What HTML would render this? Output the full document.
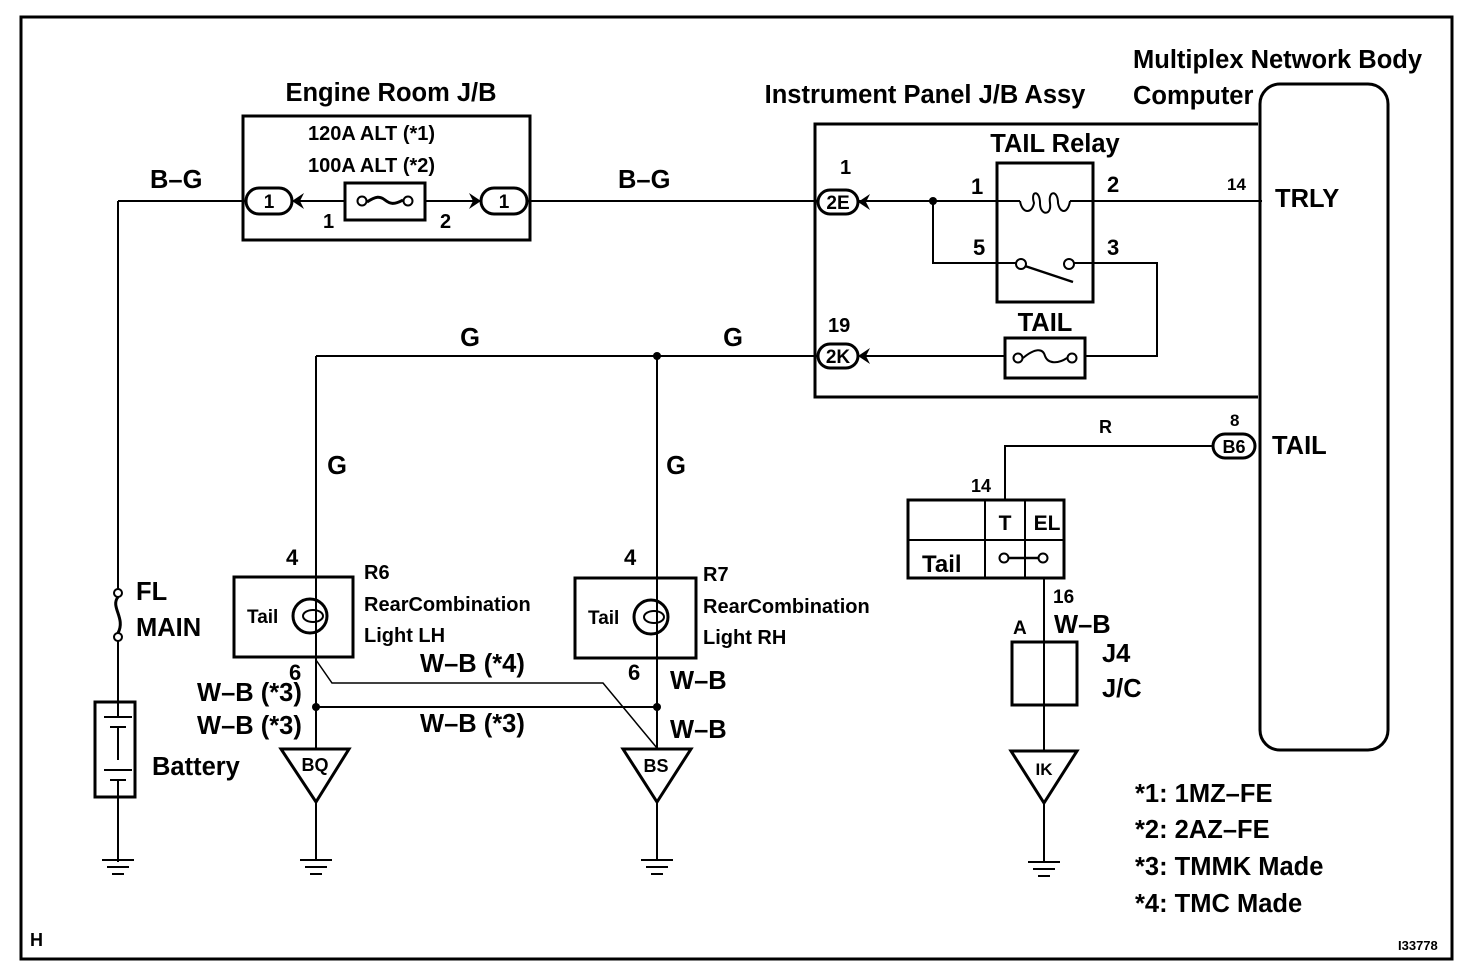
<!DOCTYPE html>
<html><head><meta charset="utf-8"><style>
html,body{margin:0;padding:0;background:#fff}
svg{display:block}
text{font-family:"Liberation Sans",sans-serif;fill:#000;font-weight:bold}
</style></head><body>
<svg width="1472" height="976" viewBox="0 0 1472 976" xmlns="http://www.w3.org/2000/svg">
<g fill="none" stroke="#000">
<path d="M21,17 H1452 V959 H21 Z" stroke-width="3"/>
<rect x="243" y="116" width="287" height="124" stroke-width="3"/>
<rect x="246" y="188" width="46" height="26" rx="13" stroke-width="3"/>
<rect x="481" y="188" width="46" height="26" rx="13" stroke-width="3"/>
<rect x="345" y="183" width="80" height="37" stroke-width="3"/>
<path d="M118,201 H246 M292,201 H345 M425,201 H481 M527,201 H818" stroke-width="2"/>
<circle cx="362" cy="201" r="4.5" stroke-width="2" fill="#fff"/>
<circle cx="408" cy="201" r="4.5" stroke-width="2" fill="#fff"/>
<path d="M367,202 C376,196 380,196 385,200 C390,204 394,205 403,200" stroke-width="3"/>
<path d="M1258,124 H815 V397 H1258" stroke-width="3"/>
<rect x="818" y="190" width="40" height="24" rx="12" stroke-width="3"/>
<rect x="818" y="344" width="40" height="24" rx="12" stroke-width="3"/>
<rect x="997" y="163" width="96" height="139" stroke-width="3"/>
<path d="M858,201 H1020 M1070,201 H1262" stroke-width="2"/>
<path d="M1020,201 C1022,214 1032,214 1034,203 C1030,190 1040,190 1040,203 C1040,216 1052,216 1050,203 C1048,190 1058,190 1058,203 C1060,214 1068,214 1070,201" stroke-width="2"/>
<path d="M933,201 V263 H1017 M1074,263 H1157 V356 H1085 M1005,356 H858 M316,356 H818" stroke-width="2"/>
<circle cx="1021" cy="264" r="5" stroke-width="2" fill="#fff"/>
<circle cx="1069" cy="264" r="5" stroke-width="2" fill="#fff"/>
<path d="M1025,266 L1073,282" stroke-width="2.5"/>
<rect x="1005" y="338" width="80" height="40" stroke-width="3"/>
<circle cx="1018" cy="358" r="4.5" stroke-width="2" fill="#fff"/>
<circle cx="1072" cy="358" r="4.5" stroke-width="2" fill="#fff"/>
<path d="M1023,358 C1035,348 1043,348 1045,356 C1048,364 1058,364 1067,358" stroke-width="2"/>
<rect x="1260" y="84" width="128" height="666" rx="20" stroke-width="3"/>
<rect x="1213" y="434" width="42" height="24" rx="12" stroke-width="3"/>
<path d="M1213,446 H1005 V500" stroke-width="2"/>
<rect x="908" y="500" width="156" height="78" stroke-width="3"/>
<path d="M908,540 H1064 M985,500 V578 M1025,500 V578" stroke-width="2"/>
<circle cx="1004" cy="558" r="4.5" stroke-width="2" fill="#fff"/>
<circle cx="1043" cy="558" r="4.5" stroke-width="2" fill="#fff"/>
<path d="M1009,558 H1038" stroke-width="2.5"/>
<path d="M1044,578 V752 M1044,803 V862" stroke-width="2"/>
<rect x="1012" y="642" width="65" height="63" stroke-width="3"/>
<path d="M118,201 V590 M118,640 V702 M118,797 V862" stroke-width="2"/>
<circle cx="118" cy="593" r="4" stroke-width="2" fill="#fff"/>
<circle cx="118" cy="637" r="4" stroke-width="2" fill="#fff"/>
<path d="M118,597 C110,607 126,618 118,633" stroke-width="3"/>
<rect x="95" y="702" width="40" height="95" stroke-width="3"/>
<path d="M104,717 H132 M110,727 H126 M118,727 V760 M104,770 H132 M110,780 H126 M118,702 V717 M118,780 V797" stroke-width="2"/>
<path d="M316,356 V749 M657,356 V749" stroke-width="2"/>
<rect x="234" y="577" width="119" height="80" stroke-width="3"/>
<rect x="575" y="578" width="121" height="80" stroke-width="3"/>
<circle cx="310" cy="616" r="17" stroke-width="3"/>
<ellipse cx="313" cy="616" rx="10" ry="6" stroke-width="2"/>
<circle cx="651" cy="617" r="17" stroke-width="3"/>
<ellipse cx="654" cy="617" rx="10" ry="6" stroke-width="2"/>
<path d="M316,660 L332,683 H603 L657,748" stroke-width="1.5"/>
<path d="M316,707 H657" stroke-width="2"/>
<path d="M281,749 H349 L316,802 Z" stroke-width="3"/>
<path d="M623,749 H691 L657,802 Z" stroke-width="3"/>
<path d="M1011,751 H1077 L1044,803 Z" stroke-width="3"/>
<path d="M316,802 V860 M657,802 V860" stroke-width="2"/>
<path d="M102,860 H134 M107,867 H129 M112,874 H124" stroke-width="2"/>
<path d="M300,860 H332 M305,867 H327 M310,874 H322" stroke-width="2"/>
<path d="M641,860 H673 M646,867 H668 M651,874 H663" stroke-width="2"/>
<path d="M1028,862 H1060 M1033,869 H1055 M1038,876 H1050" stroke-width="2"/>
</g>
<g fill="#000">
<circle cx="933" cy="201" r="4"/>
<circle cx="657" cy="356" r="4"/>
<circle cx="316" cy="707" r="4"/>
<circle cx="657" cy="707" r="4"/>
<path d="M292,201 L304,193 L300,201 L304,209 Z"/>
<path d="M481,201 L469,193 L473,201 L469,209 Z"/>
<path d="M858,202 L870,194 L866,202 L870,210 Z"/>
<path d="M858,356 L870,348 L866,356 L870,364 Z"/>
</g>
<g font-size="25.5">
<text x="391" y="101" text-anchor="middle">Engine Room J/B</text>
<text x="925" y="103" text-anchor="middle">Instrument Panel J/B Assy</text>
<text x="1133" y="68">Multiplex Network Body</text>
<text x="1133" y="104">Computer</text>
<text x="150" y="188">B–G</text>
<text x="618" y="188">B–G</text>
<text x="1055" y="152" text-anchor="middle">TAIL Relay</text>
<text x="1045" y="331" text-anchor="middle">TAIL</text>
<text x="1275" y="207">TRLY</text>
<text x="1272" y="454">TAIL</text>
<text x="470" y="346" text-anchor="middle">G</text>
<text x="733" y="346" text-anchor="middle">G</text>
<text x="337" y="474" text-anchor="middle">G</text>
<text x="676" y="474" text-anchor="middle">G</text>
<text x="136" y="600">FL</text>
<text x="136" y="636">MAIN</text>
<text x="152" y="775">Battery</text>
<text x="197" y="701">W–B (*3)</text>
<text x="197" y="734">W–B (*3)</text>
<text x="420" y="672">W–B (*4)</text>
<text x="420" y="732">W–B (*3)</text>
<text x="670" y="689">W–B</text>
<text x="670" y="738">W–B</text>
<text x="1054" y="633">W–B</text>
<text x="1102" y="662">J4</text>
<text x="1102" y="697">J/C</text>
<text x="1135" y="802">*1: 1MZ–FE</text>
<text x="1135" y="838">*2: 2AZ–FE</text>
<text x="1135" y="875">*3: TMMK Made</text>
<text x="1135" y="912">*4: TMC Made</text>
</g>
<g font-size="20">
<text x="308" y="140">120A ALT (*1)</text>
<text x="308" y="172">100A ALT (*2)</text>
<text x="269" y="208" text-anchor="middle" font-size="19">1</text>
<text x="504" y="208" text-anchor="middle" font-size="19">1</text>
<text x="323" y="228">1</text>
<text x="440" y="228">2</text>
<text x="838" y="209" text-anchor="middle" font-size="19">2E</text>
<text x="838" y="363" text-anchor="middle" font-size="19">2K</text>
<text x="1234" y="453" text-anchor="middle" font-size="18">B6</text>
<text x="840" y="174">1</text>
<text x="828" y="332">19</text>
<text x="971" y="194" font-size="22">1</text>
<text x="1107" y="192" font-size="22">2</text>
<text x="973" y="255" font-size="22">5</text>
<text x="1107" y="255" font-size="22">3</text>
<text x="1227" y="190" font-size="17">14</text>
<text x="1230" y="426" font-size="17">8</text>
<text x="1099" y="433" font-size="18">R</text>
<text x="971" y="492" font-size="18">14</text>
<text x="1005" y="530" text-anchor="middle" font-size="21">T</text>
<text x="1047" y="530" text-anchor="middle" font-size="21">EL</text>
<text x="922" y="572" font-size="24">Tail</text>
<text x="1053" y="603" font-size="19">16</text>
<text x="1013" y="634" font-size="19">A</text>
<text x="1044" y="775" text-anchor="middle" font-size="17">IK</text>
<text x="286" y="565" font-size="22">4</text>
<text x="624" y="565" font-size="22">4</text>
<text x="289" y="680" font-size="22">6</text>
<text x="628" y="680" font-size="22">6</text>
<text x="247" y="623" font-size="19">Tail</text>
<text x="588" y="624" font-size="19">Tail</text>
<text x="364" y="579">R6</text>
<text x="364" y="611">RearCombination</text>
<text x="364" y="642">Light LH</text>
<text x="703" y="581">R7</text>
<text x="703" y="613">RearCombination</text>
<text x="703" y="644">Light RH</text>
<text x="315" y="771" text-anchor="middle" font-size="18">BQ</text>
<text x="656" y="772" text-anchor="middle" font-size="18">BS</text>
<text x="30" y="946" font-size="18">H</text>
<text x="1398" y="950" font-size="13">I33778</text>
</g>
</svg>
</body></html>
